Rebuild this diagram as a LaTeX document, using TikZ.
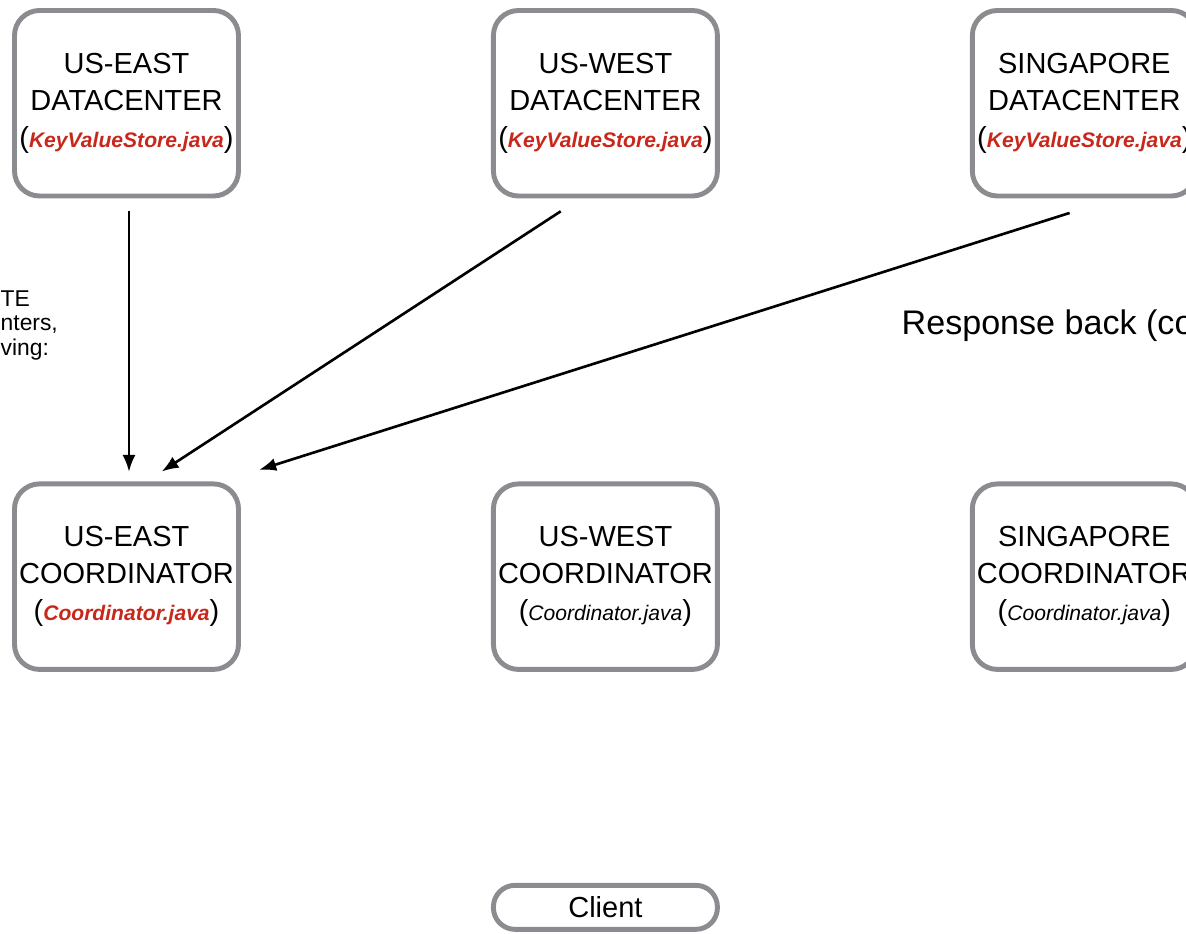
\documentclass[tikz,border=0pt]{standalone}
\usepackage{fontspec}
\setmainfont{Liberation Sans}
\usetikzlibrary{positioning, arrows.meta}
\definecolor{boxgray}{HTML}{8A8C8F}
\definecolor{javared}{HTML}{C8281C}
\newcommand{\srcname}[1]{{\fontsize{12}{14}\selectfont\itshape #1}}
\newcommand{\srcmain}[1]{{\fontsize{12}{14}\selectfont\bfseries\itshape\color{javared}#1}}

\begin{document}
\begin{tikzpicture}[thick, > = {Latex[length=3.4mm, width=2.6mm]}]
    \tikzset{
      my server/.style={
        draw=boxgray, line width=2.8pt, rounded corners=5mm, fill=white,
        minimum width=4.48cm, minimum height=3.71cm, align=center,
        inner sep=0pt, font=\fontsize{16.5}{21}\selectfont
      },
      my client/.style={my server, minimum height=8.8mm, rounded corners=4.3mm},
      my request/.style={->, line width=1.5pt},
    }
    % Frame of the picture
    \useasboundingbox (-2.53,2.065) rectangle (21.19,-16.615);
    \clip (-2.53,2.065) rectangle (21.19,-16.615);

    % Datacenters
    \node (dcEast) [my server] {US-EAST\\DATACENTER\\(\srcmain{KeyValueStore.java})};
    \node (dcWest) [my server, right=5cm of dcEast] {US-WEST\\DATACENTER\\(\srcmain{KeyValueStore.java})};
    \node (dcSing) [my server, right=5cm of dcWest] {SINGAPORE\\DATACENTER\\(\srcmain{KeyValueStore.java})};

    % Coordinators
    \node (coEast) [my server, below=5.66cm of dcEast] {US-EAST\\COORDINATOR\\(\srcmain{Coordinator.java})};
    \node (coWest) [my server, below=5.66cm of dcWest] {US-WEST\\COORDINATOR\\(\srcname{Coordinator.java})};
    \node (coSing) [my server, below=5.66cm of dcSing] {SINGAPORE\\COORDINATOR\\(\srcname{Coordinator.java})};

    % Client
    \node (client) [my client, below=4.22cm of coWest] {Client};

    % Notes
    \node (noteWrite) [anchor=west, inner sep=0pt, align=left,
      font=\fontsize{13}{14}\selectfont] at (-2.53,-4.44) {TE\\nters,\\ving:};
    \node (noteResponse) [anchor=west, inner sep=0pt,
      font=\fontsize{19.4}{23}\selectfont] at (15.49,-4.45) {Response back (co};

    % Arrows
    \foreach \from/\sx/\ex/\sa/\sb in {dcEast/0.05/0.05/0.25/0.19,
        dcWest/-0.5/0.4/0.47/0.36, dcSing/0.62/1.92/0.96/0.77} {
      \draw[my request, shorten < = \sa cm, shorten > = \sb cm]
        ([xshift=\sx cm]\from.south) -- ([xshift=\ex cm]coEast.north);
    }

  \end{tikzpicture}
\end{document}
